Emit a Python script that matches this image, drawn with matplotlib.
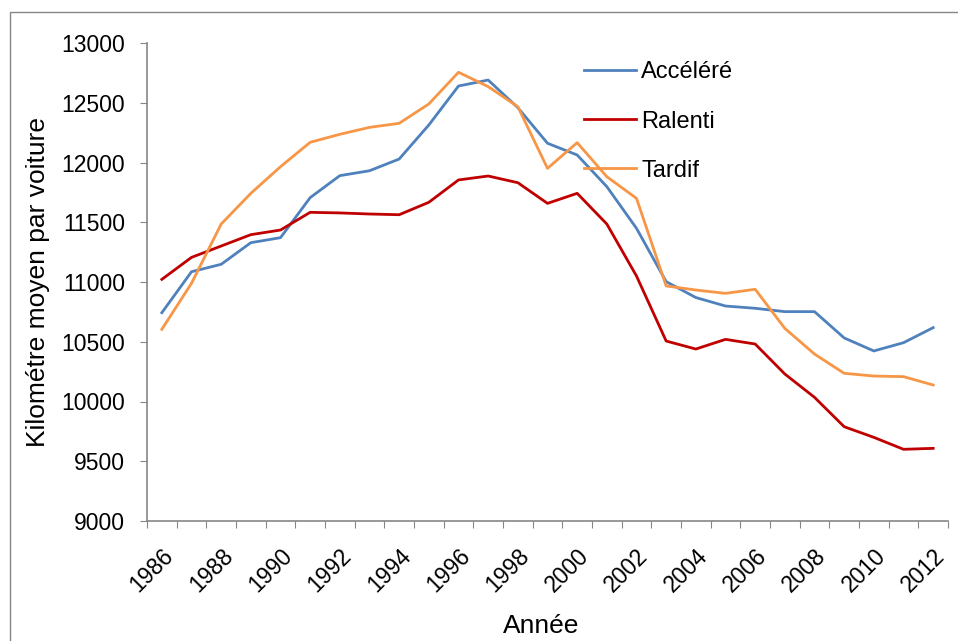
import matplotlib
matplotlib.use('Agg')
import matplotlib.pyplot as plt
from matplotlib.patches import Rectangle

plt.rcParams['font.family'] = ['Liberation Sans', 'DejaVu Sans']

years = list(range(1986, 2013))

accelere = [10743, 11086, 11148, 11329, 11371, 11706, 11890, 11931, 12029, 12314,
            12640, 12690, 12459, 12161, 12063, 11798, 11449, 11003, 10870, 10799,
            10780, 10752, 10752, 10532, 10423, 10492, 10618]
ralenti = [11022, 11206, 11301, 11396, 11435, 11583, 11578, 11569, 11563, 11667,
           11854, 11887, 11831, 11658, 11742, 11485, 11050, 10506, 10439, 10520,
           10481, 10230, 10035, 9789, 9700, 9600, 9608]
tardif = [10604, 10989, 11485, 11742, 11965, 12169, 12236, 12294, 12328, 12490,
          12755, 12635, 12467, 11951, 12166, 11881, 11700, 10967, 10933, 10905,
          10939, 10612, 10397, 10236, 10213, 10208, 10138]

series_names = ['Accéléré', 'Ralenti', 'Tardif']
series_colors = ['#4F81BD', '#C00000', '#F79646']

TICK_FS = 16.5
LEG_FS = 17
LAB_FS = 19

fig = plt.figure(figsize=(9.58, 6.41), dpi=100)
ax = fig.add_axes([147 / 958, 120 / 641, 801 / 958, 478 / 641])

# outer chart border like the Excel chart area
fig.patches.append(Rectangle((10 / 958, -0.1), 1.2, (641 - 12) / 641 + 0.1,
                             transform=fig.transFigure, fill=False,
                             edgecolor='#868686', linewidth=1))

x = list(range(len(years)))
for vals, name, col in zip([accelere, ralenti, tardif], series_names, series_colors):
    ax.plot(x, vals, color=col, linewidth=2, label=name)

ax.set_xlim(-0.5, len(years) - 0.5)
ax.set_ylim(9000, 13000)
ax.set_yticks(range(9000, 13001, 500))

# ticks between categories, labels every 2 years
ax.set_xticks([i - 0.5 for i in range(len(years) + 1)])
ax.set_xticklabels([])
ax.set_xticks(x[::2], minor=True)
ax.set_xticklabels([str(y) for y in years[::2]], minor=True, rotation=45,
                   ha='right', va='top', rotation_mode='anchor', fontsize=TICK_FS)
ax.tick_params(axis='x', which='minor', length=0, pad=17)
ax.tick_params(axis='x', which='major', length=5, color='#868686', direction='out')
ax.tick_params(axis='y', length=5, color='#868686', direction='out', labelsize=TICK_FS, pad=11)

for s in ['top', 'right']:
    ax.spines[s].set_visible(False)
for s in ['left', 'bottom']:
    ax.spines[s].set_color('#868686')
    ax.spines[s].set_linewidth(1.2)

ax.set_xlabel('Année', fontsize=LAB_FS)
ax.xaxis.set_label_coords(541 / 958, 1 - 626 / 641, transform=fig.transFigure)
ax.xaxis.label.set_va('center')
ax.set_ylabel('Kilométre moyen par voiture', fontsize=LAB_FS)
ax.yaxis.set_label_coords(38 / 958, 1 - 282 / 641, transform=fig.transFigure)
ax.yaxis.label.set_va('center')

ax.legend(loc='upper left', bbox_to_anchor=(575 / 958, 1 - 52 / 641),
          bbox_transform=fig.transFigure, frameon=False, fontsize=LEG_FS,
          handlelength=2.2, labelspacing=1.15, handletextpad=0.2, borderaxespad=0)

fig.savefig('out.png', dpi=100)
